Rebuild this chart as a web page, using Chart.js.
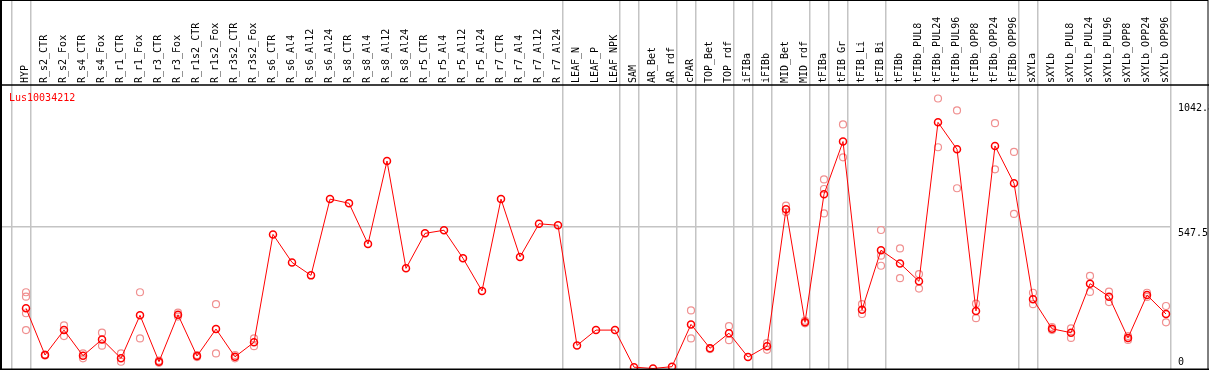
<!DOCTYPE html>
<html>
<head>
<meta charset="utf-8">
<script src="https://cdn.jsdelivr.net/npm/chart.js@4.4.1/dist/chart.umd.min.js"></script>
<style>
  html, body { margin: 0; padding: 0; background: #fff; }
  canvas { display: block; }
</style>
</head>
<body>
<canvas id="expr-chart" width="1209" height="370"></canvas>
<script>
const seriesName = 'Lus10034212';

const categories = [
    'HYP', 'R_s2_CTR', 'R_s2_Fox', 'R_s4_CTR', 'R_s4_Fox', 'R_r1_CTR', 'R_r1_Fox',
    'R_r3_CTR', 'R_r3_Fox', 'R_r1s2_CTR', 'R_r1s2_Fox', 'R_r3s2_CTR', 'R_r3s2_Fox',
    'R_s6_CTR', 'R_s6_Al4', 'R_s6_Al12', 'R_s6_Al24', 'R_s8_CTR', 'R_s8_Al4', 'R_s8_Al12', 'R_s8_Al24',
    'R_r5_CTR', 'R_r5_Al4', 'R_r5_Al12', 'R_r5_Al24', 'R_r7_CTR', 'R_r7_Al4', 'R_r7_Al12', 'R_r7_Al24',
    'LEAF_N', 'LEAF_P', 'LEAF_NPK', 'SAM', 'AR_Bet', 'AR_rdf', 'cPAR', 'TOP_Bet', 'TOP_rdf',
    'iFIBa', 'iFIBb', 'MID_Bet', 'MID_rdf', 'tFIBa', 'tFIB_Gr', 'tFIB_Li', 'tFIB_Bi', 'tFIBb',
    'tFIBb_PUL8', 'tFIBb_PUL24', 'tFIBb_PUL96', 'tFIBb_OPP8', 'tFIBb_OPP24', 'tFIBb_OPP96',
    'sXYLa', 'sXYLb', 'sXYLb_PUL8', 'sXYLb_PUL24', 'sXYLb_PUL96', 'sXYLb_OPP8', 'sXYLb_OPP24', 'sXYLb_OPP96'
];

// mean expression per sample
const means = [
    234, 54, 150, 51, 114, 41, 207, 28, 209, 50, 154, 47, 103,
    519, 411, 361, 655, 639, 482, 802, 388,
    523, 535, 427, 301, 655, 432, 560, 554,
    91, 150, 150, 7, 2, 9, 172, 80, 138,
    46, 88, 616, 180, 674, 877, 228, 458, 407,
    338, 951, 847, 224, 860, 716,
    269, 155, 140, 329, 279, 120, 285, 212
];

// individual replicates per sample (empty = hidden behind the mean)
const replicates = [
    [296, 279, 215, 150], [52, 56], [168, 127], [60, 41], [140, 90], [60, 28], [296, 118],
    [32, 24], [217, 202], [54, 46], [250, 60], [54, 41], [118, 88],
    [], [], [], [], [], [], [], [],
    [], [], [], [], [], [], [], [],
    [], [], [], [], [], [], [226, 118], [80, 77], [165, 111],
    [], [100, 74], [630, 605], [186, 176], [731, 694, 600], [943, 816], [250, 212], [536, 437, 398], [465, 350],
    [366, 310], [1042.86, 855], [997, 697], [252, 196], [948, 770], [837, 598],
    [294, 250], [162, 150], [157, 120], [359, 297], [298, 258], [127, 112], [294, 278], [243, 180]
];

const yMax = 1095;
const yTicks = [0, 547.5, 1042.86];
const yTickLabels = ['0', '547.5', '1042.86'];

// separators are drawn after these sample indices
const groupEnds = [-1, 0, 28, 31, 32, 34, 35, 37, 38, 39, 41, 42, 43, 45, 52, 53, 60];

document.addEventListener('DOMContentLoaded', function() {
    const ctx = document.getElementById('expr-chart').getContext('2d');
    const monoFont = '"DejaVu Sans Mono", "Liberation Mono", monospace';

    const meanPoints = means.map((v, i) => ({ x: i, y: v }));
    const replicatePoints = [];
    replicates.forEach((reps, i) => {
        reps.forEach(v => replicatePoints.push({ x: i, y: v }));
    });

    // frame, group separators, series name and value labels
    const decorations = {
        id: 'decorations',
        beforeDatasetsDraw(chart) {
            const c = chart.ctx;
            const xs = chart.scales.x;
            const area = chart.chartArea;
            c.save();
            c.strokeStyle = '#c4c4c4';
            c.lineWidth = 1.5;
            groupEnds.forEach(i => {
                const px = Math.round(xs.getPixelForValue(i + 0.26)) - 0.25;
                c.beginPath();
                c.moveTo(px, 0);
                c.lineTo(px, area.bottom);
                c.stroke();
            });
            c.restore();
        },
        afterDraw(chart) {
            const c = chart.ctx;
            const ys = chart.scales.y;
            const area = chart.chartArea;
            const w = chart.width;
            c.save();
            c.strokeStyle = '#000';
            c.lineWidth = 1;
            c.strokeRect(0.5, 0.5, w - 1.5, area.bottom);
            c.lineWidth = 2;
            c.beginPath();
            c.moveTo(1, 0);
            c.lineTo(1, area.bottom + 1);
            c.stroke();
            c.lineWidth = 1.5;
            c.beginPath();
            c.moveTo(0, area.top);
            c.lineTo(w, area.top);
            c.moveTo(0, area.bottom + 0.25);
            c.lineTo(w, area.bottom + 0.25);
            c.stroke();

            c.font = '10px ' + monoFont;
            c.textBaseline = 'alphabetic';
            c.textAlign = 'left';
            c.fillStyle = '#ff0000';
            c.fillText(seriesName, 9, area.top + 16);

            const baselineShift = [-4, 9, 12];
            c.fillStyle = '#000';
            yTicks.forEach((v, k) => {
                c.fillText(yTickLabels[k], area.right + 7, ys.getPixelForValue(v) + baselineShift[k]);
            });
            c.restore();
        }
    };

    new Chart(ctx, {
        type: 'scatter',
        data: {
            datasets: [{
                label: seriesName,
                data: meanPoints,
                showLine: true,
                borderColor: '#ff0000',
                borderWidth: 1,
                pointRadius: 3.5,
                pointBorderWidth: 1.5,
                pointBorderColor: '#ff0000',
                pointBackgroundColor: 'rgba(0,0,0,0)'
            }, {
                label: 'replicates',
                data: replicatePoints,
                showLine: false,
                pointRadius: 3.5,
                pointBorderWidth: 1.2,
                pointBorderColor: '#f09090',
                pointBackgroundColor: 'rgba(0,0,0,0)'
            }]
        },
        options: {
            responsive: false,
            animation: false,
            devicePixelRatio: 1,
            layout: { autoPadding: false, padding: { left: 1, right: 0, top: 0, bottom: 1 } },
            plugins: {
                legend: { display: false },
                tooltip: { enabled: false }
            },
            scales: {
                x: {
                    type: 'linear',
                    position: 'top',
                    min: -25 / 19,
                    max: 60 + 5 / 19,
                    afterBuildTicks: axis => {
                        axis.ticks = categories.map((c, i) => ({ value: i }));
                    },
                    afterFit: axis => {
                        axis.height = 85;
                        axis.paddingLeft = 0;
                        axis.paddingRight = 0;
                    },
                    grid: { display: false, drawTicks: false },
                    border: { display: false },
                    ticks: {
                        autoSkip: false,
                        minRotation: 90,
                        maxRotation: 90,
                        padding: 2,
                        labelOffset: 11,
                        color: '#000',
                        font: { family: monoFont, size: 10 },
                        callback: value => categories[value]
                    }
                },
                y: {
                    type: 'linear',
                    position: 'right',
                    min: 0,
                    max: yMax,
                    afterBuildTicks: axis => {
                        axis.ticks = yTicks.map(v => ({ value: v }));
                    },
                    afterFit: axis => {
                        axis.width = 38;
                        axis.paddingTop = 0;
                        axis.paddingBottom = 0;
                    },
                    grid: {
                        drawTicks: false,
                        lineWidth: 1.5,
                        color: c => (c.tick && c.tick.value === 547.5) ? '#c4c4c4' : 'rgba(0,0,0,0)'
                    },
                    border: { display: false },
                    ticks: { display: false }
                }
            }
        },
        plugins: [decorations]
    });
});
</script>
</body>
</html>
